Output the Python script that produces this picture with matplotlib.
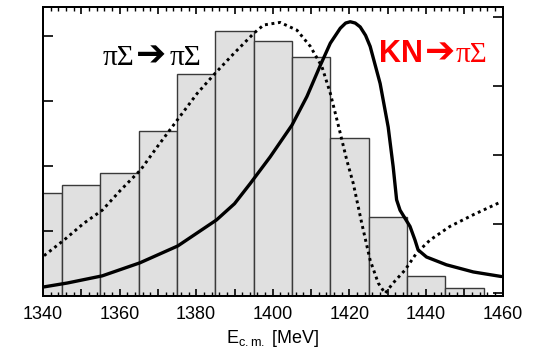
import numpy as np
import matplotlib
matplotlib.use("Agg")
import matplotlib.pyplot as plt
from matplotlib.ticker import MultipleLocator, FuncFormatter

plt.rcParams['font.family'] = ['Liberation Sans', 'DejaVu Sans']
plt.rcParams['mathtext.fontset'] = 'custom'
plt.rcParams['mathtext.rm'] = 'Liberation Sans'
plt.rcParams['mathtext.it'] = 'Liberation Sans'

# histogram: left edges of the 10 MeV bins and their heights
bin_left = [1335, 1345, 1355, 1365, 1375, 1385, 1395, 1405, 1415, 1425, 1435, 1445]
bin_height = [1.58, 1.71, 1.90, 2.54, 3.42, 4.07, 3.92, 3.68, 2.43, 1.22, 0.31, 0.13]

# K N -> pi Sigma (solid)
e_kn = [1340.3, 1346.4, 1355.5, 1365.3, 1375.2, 1385.3, 1390.0, 1394.1, 1399.3, 1405.0,
        1408.9, 1412.4, 1415.0, 1417.6, 1419.0, 1420.2, 1421.5, 1422.8, 1424.2, 1425.4,
        1428.0, 1430.1, 1431.4, 1432.3, 1433.2, 1435.8, 1437.1, 1437.9, 1440.1, 1445.3,
        1452.3, 1459.6]
y_kn = [0.14, 0.20, 0.31, 0.51, 0.77, 1.17, 1.42, 1.73, 2.14, 2.63,
        3.07, 3.55, 3.89, 4.12, 4.20, 4.22, 4.20, 4.14, 4.01, 3.84,
        3.27, 2.60, 1.99, 1.48, 1.32, 1.07, 0.86, 0.71, 0.60, 0.48,
        0.37, 0.30]

# pi Sigma -> pi Sigma (dotted)
e_ps = [1340.3, 1345.5, 1350.7, 1355.5, 1360.3, 1365.5, 1369.9, 1375.1, 1380.3,
        1385.0, 1389.8, 1395.0, 1397.6, 1401.9, 1406.3, 1409.8, 1412.8, 1415.0,
        1417.2, 1419.3, 1421.0, 1423.2, 1425.4, 1427.5, 1429.3, 1431.4, 1434.5,
        1437.5, 1441.0, 1446.2, 1452.3, 1459.6]
y_ps = [0.62, 0.86, 1.12, 1.32, 1.63, 1.94, 2.30, 2.71, 3.12,
        3.43, 3.73, 4.04, 4.17, 4.21, 4.09, 3.84, 3.53, 3.12,
        2.60, 2.09, 1.73, 1.12, 0.55, 0.20, 0.04, 0.20, 0.40,
        0.66, 0.86, 1.07, 1.25, 1.45]

fig = plt.figure(figsize=(5.36, 3.53), dpi=100)
ax = fig.add_axes([0.080, 0.1615, 0.858, 0.8185])

ax.bar(bin_left, bin_height, width=10, align='edge', color='#e0e0e0',
       edgecolor='#3a3a3a', linewidth=1.0, zorder=1)
ax.plot(e_kn, y_kn, color='black', lw=2.4, solid_capstyle='round',
        solid_joinstyle='round', zorder=3)
ax.plot(e_ps, y_ps, color='black', lw=2.1, linestyle=(0, (1.0, 1.25)), zorder=2)

ax.set_xlim(1340, 1460)
ax.set_ylim(0, 4.446)

ax.xaxis.set_major_locator(MultipleLocator(10))
ax.xaxis.set_minor_locator(MultipleLocator(2))
ax.xaxis.set_major_formatter(FuncFormatter(lambda v, p: f"{v:.0f}" if round(v) % 20 == 0 else ""))
ax.set_yticks([0, 1, 2, 3, 4])
ax.set_yticklabels([])
ax.tick_params(axis='x', which='major', direction='in', top=True, length=5, width=1.2,
               labelsize=13, pad=7)
ax.tick_params(axis='x', which='minor', direction='in', top=True, length=3, width=1.0)
ax.tick_params(axis='y', direction='in', length=7, width=1.2)
for s in ax.spines.values():
    s.set_linewidth(1.4)

ax2 = ax.twinx()
ax2.set_ylim(-0.043, 4.145)
ax2.set_yticks([0, 1, 2, 3, 4])
ax2.set_yticklabels([])
ax2.tick_params(axis='y', direction='in', length=7, width=1.2)
for s in ax2.spines.values():
    s.set_linewidth(1.4)

ax.set_xlabel(r'E$_{\rm c.m.}$ [MeV]', fontsize=13, labelpad=4)

# channel labels
serif = ['Liberation Serif', 'DejaVu Sans']
ax.text(1355.5, 3.55, 'πΣ', fontsize=21, family=serif, color='black', zorder=5)
ax.text(1364.4, 3.55, '➔', fontsize=26, family=['DejaVu Sans'], fontweight='bold',
        color='black', zorder=5)
ax.text(1373.0, 3.55, 'πΣ', fontsize=21, family=serif, color='black', zorder=5)

red = '#ff0000'
ax.text(1427.8, 3.6, 'KN', fontsize=22, fontweight='bold', color=red, zorder=5)
ax.text(1439.8, 3.6, '➔', fontsize=26, family=['DejaVu Sans'], fontweight='bold',
        color=red, zorder=5)
ax.text(1447.6, 3.6, 'πΣ', fontsize=21, family=serif, color=red, zorder=5)

fig.savefig('out.png', dpi=100)
